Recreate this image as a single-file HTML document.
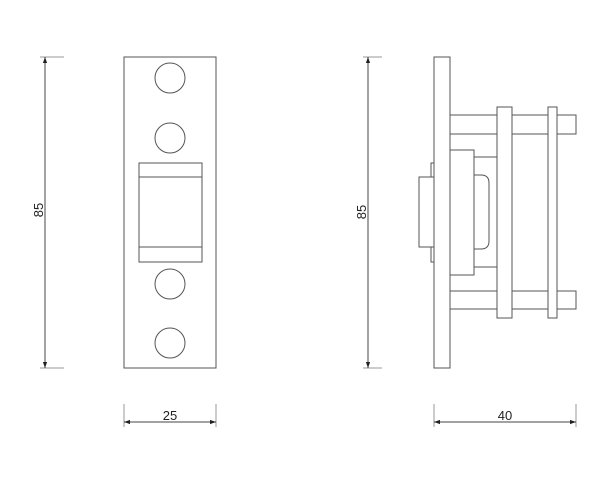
<!DOCTYPE html>
<html><head><style>body{margin:0;background:#fff}svg{display:block}</style></head><body>
<svg width="600" height="483" viewBox="0 0 600 483" xmlns="http://www.w3.org/2000/svg">
<defs>
<marker id="a" viewBox="0 0 10 10" refX="10" refY="5" markerWidth="9" markerHeight="6" markerUnits="userSpaceOnUse" orient="auto-start-reverse"><path d="M0,1.5 L10,5 L0,8.5z" fill="#222"/></marker>
</defs>
<g fill="none" stroke="#555" stroke-width="1">
<!-- front view -->
<rect x="124" y="57" width="92" height="311"/>
<circle cx="170" cy="78" r="15"/>
<circle cx="170" cy="138" r="15"/>
<circle cx="170" cy="284" r="15"/>
<circle cx="170" cy="343" r="15"/>
<rect x="139" y="163" width="63" height="99"/>
<line x1="139" y1="177" x2="202" y2="177"/>
<line x1="139" y1="247" x2="202" y2="247"/>
<!-- side view -->
<rect x="434" y="57" width="16" height="311"/>
<rect x="450" y="115" width="126" height="19"/>
<rect x="450" y="291" width="126" height="18"/>
<rect x="450" y="150" width="24" height="125" fill="#fff"/>
<polyline points="474,157 497,157"/>
<polyline points="474,267 497,267"/>
<rect x="497" y="107" width="15" height="211" fill="#fff"/>
<rect x="548" y="107" width="9" height="211" fill="#fff"/>
<path d="M474,175 H481 Q489,175 489,183 V241 Q489,249 481,249 H474"/>
<rect x="419" y="177" width="15" height="70"/>
<polyline points="434,163 431,163 431,177"/>
<polyline points="431,247 431,262 434,262"/>
</g>
<g stroke="#444" stroke-width="1" fill="none">
<line x1="40" y1="57" x2="64" y2="57" stroke="#999"/>
<line x1="40" y1="368" x2="64" y2="368" stroke="#999"/>
<line x1="45" y1="57" x2="45" y2="368" marker-start="url(#a)" marker-end="url(#a)"/>
<line x1="363" y1="57" x2="382" y2="57" stroke="#999"/>
<line x1="363" y1="368" x2="382" y2="368" stroke="#999"/>
<line x1="368" y1="57" x2="368" y2="368" marker-start="url(#a)" marker-end="url(#a)"/>
<line x1="124" y1="404" x2="124" y2="427" stroke="#999"/>
<line x1="216" y1="404" x2="216" y2="427" stroke="#999"/>
<line x1="124" y1="422" x2="216" y2="422" marker-start="url(#a)" marker-end="url(#a)"/>
<line x1="434" y1="404" x2="434" y2="427" stroke="#999"/>
<line x1="576" y1="404" x2="576" y2="427" stroke="#999"/>
<line x1="434" y1="422" x2="576" y2="422" marker-start="url(#a)" marker-end="url(#a)"/>
</g>
<g font-family="Liberation Sans, sans-serif" font-size="13" fill="#222" text-anchor="middle">
<text x="170" y="420">25</text>
<text x="505" y="420">40</text>
<text transform="translate(43,210) rotate(-90)">85</text>
<text transform="translate(366,212) rotate(-90)">85</text>
</g>
</svg>
</body></html>
